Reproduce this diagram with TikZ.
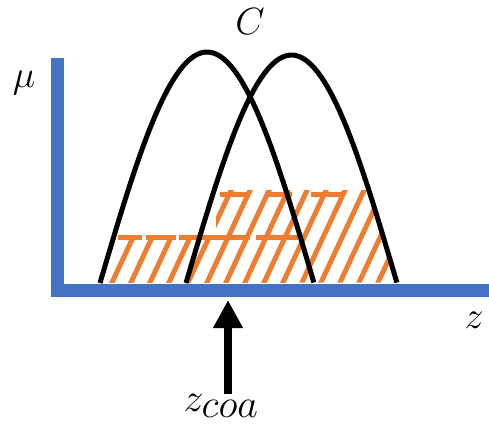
\RequirePackage{fix-cm}
\documentclass[tikz,border=0pt]{standalone}
\usepackage{tikz}
\usetikzlibrary{arrows.meta}
\definecolor{axblue}{HTML}{4472C4}
\definecolor{hatchor}{HTML}{ED7D31}
\tikzset{axis/.style={draw=axblue,line width=13pt,line cap=butt,line join=miter},
	arch/.style={draw=black,line width=5pt},
	hatch/.style={draw=hatchor,line width=5pt},
	lbl/.style={inner sep=0pt,font=\fontsize{38}{40}\selectfont},
	bigarrow/.style={draw=black,line width=8pt,-{Triangle[width=28pt,length=28pt]}}}

\begin{document}
\begin{tikzpicture}[x=1pt,y=-1pt]
	   	\useasboundingbox (0,0) rectangle (489,432);
	   	\def\basey{283}
	   	\begin{scope}
	   		\clip plot[domain=0:1,samples=60] ({100+214*\x},{\basey-231*sin(180*\x)}) -- cycle
	   			plot[domain=0:1,samples=60] ({186+211*\x},{\basey-228*sin(180*\x)}) -- cycle;
	   		\clip (100,\basey) rectangle (298,237.5) (216,\basey) rectangle (400,190);
	   		\foreach \k in {0,...,15}{
	   			\draw[hatch] (111.7+19*\k-6,296)--++(56,-120);
	   		}
	   	\end{scope}
	   	\draw[hatch] (118,237.5)--(142,237.5) (146,237.5)--(176,237.5) (179,237.5)--(250,237.5) (256,237.5)--(298,237.5);
	   	\draw[hatch] (220,194)--(247,194) (266,194)--(292,194) (311,194)--(343,194);
	   	\draw[arch] plot[domain=0:1,samples=60] ({100+214*\x},{\basey-231*sin(180*\x)});
	   	\draw[arch] plot[domain=0:1,samples=60] ({186+211*\x},{\basey-228*sin(180*\x)});
	   	\draw[axis] (57.5,58)--(57.5,290)--(489,290);
	   	\node[lbl] (mu) at (24,83) {$\mu$};
	   	\node[lbl] (cc) at (250,22) {$C$};
	   	\node[lbl] (zz) at (474,320) {$z$};
	   	\node[lbl,anchor=north,font=\fontsize{40}{42}\selectfont] (zcoa) at (221,394) {$z_{\textstyle coa}$};
	   	\coordinate (tip) at (228,300);
	   	\draw[bigarrow] (zcoa.north -| tip)--(tip);
	   \end{tikzpicture}
\end{document}
